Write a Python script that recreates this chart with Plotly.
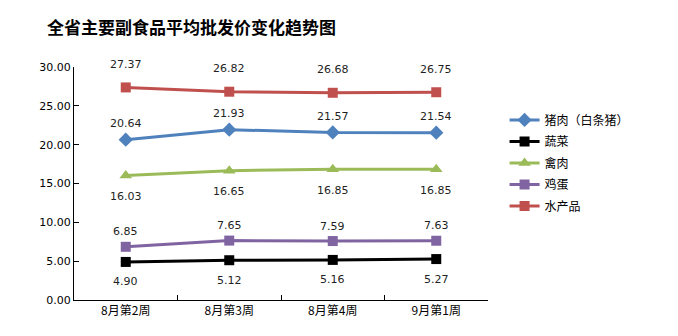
import plotly.graph_objects as go

weeks = ["8月第2周", "8月第3周", "8月第4周", "9月第1周"]

pork = [20.64, 21.93, 21.57, 21.54]
vegetables = [4.90, 5.12, 5.16, 5.27]
poultry = [16.03, 16.65, 16.85, 16.85]
eggs = [6.85, 7.65, 7.59, 7.63]
seafood = [27.37, 26.82, 26.68, 26.75]

series = [
    ("猪肉（白条猪）", pork, "#4F81BD", "diamond", 11, 16),
    ("蔬菜", vegetables, "#000000", "square", 10, -20),
    ("禽肉", poultry, "#9BBB59", "triangle-up", 11, -21),
    ("鸡蛋", eggs, "#8064A2", "square", 10, 15),
    ("水产品", seafood, "#C0504D", "square", 10, 23),
]

fig = go.Figure()
annotations = []
for i, (name, vals, color, symbol, msize, shift) in enumerate(series):
    fig.add_trace(go.Scatter(
        x=weeks, y=vals, name=name, mode="lines+markers",
        legendgroup=f"g{i}",
        line=dict(color=color, width=3),
        marker=dict(symbol=symbol, size=msize, color=color),
    ))
    for w, v in zip(weeks, vals):
        annotations.append(dict(
            x=w, y=v, xref="x", yref="y", text=f"{v:.2f}",
            showarrow=False, yshift=shift,
            font=dict(family="DejaVu Sans", size=11, color="#1F1F1F"),
        ))

annotations.append(dict(
    x=-0.07, y=1.172, xref="paper", yref="paper",
    xanchor="left", yanchor="middle", showarrow=False,
    text="<b>全省主要副食品平均批发价变化趋势图</b>",
    font=dict(family="Noto Sans CJK SC", size=17, color="#000000"),
))

fig.update_layout(
    width=678, height=336,
    margin=dict(l=74, r=190, t=67, b=36),
    paper_bgcolor="white", plot_bgcolor="white",
    showlegend=True,
    legend=dict(
        x=1.04, y=0.835, xanchor="left", yanchor="top",
        font=dict(family="Noto Sans CJK SC", size=12, color="#000000"),
        tracegroupgap=2.5, itemwidth=30,
        bgcolor="rgba(0,0,0,0)",
    ),
    annotations=annotations,
)
fig.update_xaxes(
    type="category", range=[-0.5, 3.5],
    showline=True, linecolor="black", linewidth=1,
    ticks="inside", tickson="boundaries", ticklen=5, tickcolor="black",
    showgrid=False, zeroline=False,
    tickfont=dict(family="Noto Sans CJK SC", size=12, color="#000000"),
)
fig.update_yaxes(
    range=[0, 30], dtick=5, tickformat=".2f",
    showline=True, linecolor="black", linewidth=1,
    ticks="inside", ticklen=5, tickcolor="black",
    showgrid=False, zeroline=False,
    tickfont=dict(family="DejaVu Sans", size=11, color="#000000"),
)

fig.write_html("out.html")
